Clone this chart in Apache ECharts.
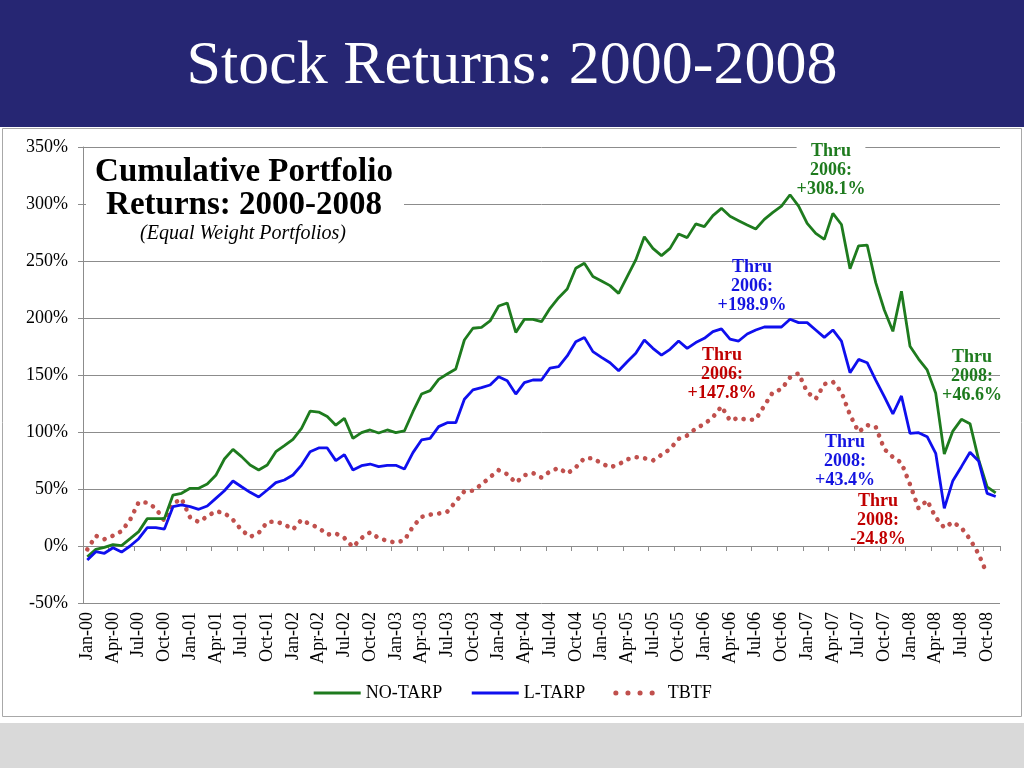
<!DOCTYPE html>
<html>
<head>
<meta charset="utf-8">
<script src="https://cdn.jsdelivr.net/npm/echarts@6/dist/echarts.min.js"></script>
<style>
html,body{margin:0;padding:0;background:#fff;}
#chart{width:1024px;height:768px;}
</style>
</head>
<body>
<div id="chart"></div>
<script>
// ---- data ----
const MONTH_NAMES = ['Jan','Feb','Mar','Apr','May','Jun','Jul','Aug','Sep','Oct','Nov','Dec'];
const YEARS = ['00','01','02','03','04','05','06','07','08'];
const N_MONTHS = 107; // Jan-00 .. Nov-08
const categories = [];
for (let k = 0; k < N_MONTHS; k++) {
  categories.push(MONTH_NAMES[k % 12] + '-' + YEARS[Math.floor(k / 12)]);
}

const noTarp = [
  -9.4,-3,-1.2,1.2,0.3,6.4,12.6,24,24,24,44.7,46.2,50.6,50.6,54.4,62,76.3,84.8,78.4,71,
  66.7,71,82.7,88,93.6,103.2,118.4,117.5,113.5,106,112,94.4,99.4,101.8,99.1,101.8,99.4,100.9,117.8,133.3,
  136.3,146.2,150.9,155.3,180.7,191,191.8,197.4,210.5,213.2,187.4,198.8,198.8,196.8,208.5,217.8,225.4,243.6,248,236.3,
  232.5,228.4,221.6,236.3,250.9,271.3,261.1,254.7,261.1,273.7,270.5,282.5,280.1,289.8,296.2,289.2,285.4,281.6,278.1,286.5,
  292.7,298.2,308.1,298.2,283,274.3,269,291.8,282,243.3,263.3,264,231,207,188.3,223.4,175.2,164,154.4,133.9,
  80.7,100.8,111.1,107.3,76,51.8,46.6
];
const lTarp = [
  -12.3,-5,-6.4,-1.5,-5.3,0,6.4,16.1,16.1,14.9,34.5,36,34.5,32.2,35.1,41.8,48.5,57,52,47.1,
  43,49.1,55.6,57.9,62.3,71,82.7,86,86,74.9,80.2,66.7,70.5,71.9,69.6,70.8,70.8,67.5,81.9,93,
  94.4,104.7,108.2,108.2,128.7,137,138.9,141.2,148.5,145,133.3,143.3,145.6,145.6,156.1,157.3,166.7,179.2,183,170.5,
  165.5,160.8,153.8,161.7,169,180.7,173.4,167.5,172.5,179.8,173.4,178.4,182.2,188,190.4,181.5,179.8,186,189.5,192.1,
  192.1,192.1,198.9,195.9,195.9,189.5,183,189.5,179.8,152,163.7,160.8,145.6,131,115.8,131.6,98.8,99.4,95.9,81.3,
  33,57.3,69.6,82.2,74.6,46.2,43.4
];
const tbtf = [
  -3,9,6,9,13,23,38.5,38,33,22,37,41.5,25,21,26,30.5,29,23,14,8,
  11.5,21,21.5,19,14.5,23,19,16,10,11,7,-1,7,12,7,4.5,3,5,17,25.5,
  27.5,28.5,30,39,48,48.5,54,60.5,66.5,63,55.5,62,64,60,65.5,68.5,63.5,69,77,77,
  72.5,69,71.5,76,78,77,75,80,85,94,97,103,107,113,122.5,110,112.5,110.5,111,123,
  135,137.5,147.8,151.5,135,129,142,144,135,115,100,106,104.5,85,78,73,54,33,40,25,
  16,21,16,6,-7,-24.8,null
];
const seriesNames = ['NO-TARP','L-TARP','TBTF'];
const Y_MIN = -50, Y_MAX = 350, Y_STEP = 50;

// ---- style ----
const GREEN = '#1e7b1e', BLUE = '#0f0fee', RED = '#c0504d';
const GRID_GRAY = '#8c8c8c';
const SERIF = '"Liberation Serif", "Times New Roman", serif';
const DOT_STYLE = {color: RED, width: 4.6, type: [0.1, 8.4], cap: 'round'};

const chart = echarts.init(document.getElementById('chart'), null, {renderer: 'canvas'});

function note(x, yTop, lines, color, bg) {
  return {
    type: 'text', z: 10,
    x: x, y: yTop,
    style: {
      text: lines.join('\n'),
      font: 'bold 18px ' + SERIF,
      fill: color,
      align: 'center',
      verticalAlign: 'top',
      lineHeight: 19,
      backgroundColor: bg || null
    }
  };
}

const option = {
  animation: false,
  backgroundColor: '#ffffff',
  grid: {left: 83, right: 24, top: 147, bottom: 165, containLabel: false},
  xAxis: {
    type: 'category',
    data: categories,
    boundaryGap: true,
    axisLine: {onZero: true, lineStyle: {color: GRID_GRAY, width: 1}},
    axisTick: {show: true, interval: 2, length: 5, lineStyle: {color: GRID_GRAY}},
    axisLabel: {
      interval: 2, rotate: 90, margin: 9,
      fontFamily: SERIF, fontSize: 18, color: '#000'
    },
    splitLine: {show: false}
  },
  yAxis: {
    type: 'value', min: Y_MIN, max: Y_MAX, interval: Y_STEP,
    axisLine: {show: true, onZero: false, lineStyle: {color: GRID_GRAY, width: 1}},
    axisTick: {show: true, length: 5, lineStyle: {color: GRID_GRAY}},
    axisLabel: {formatter: v => v + '%', fontFamily: SERIF, fontSize: 18, color: '#000', margin: 15},
    splitLine: {show: true, lineStyle: {color: GRID_GRAY, width: 1}}
  },
  legend: {
    top: 679, left: 'center',
    itemWidth: 47, itemHeight: 14, itemGap: 28,
    itemStyle: {opacity: 0},
    textStyle: {fontFamily: SERIF, fontSize: 18, color: '#000'},
    data: [
      {name: seriesNames[0], lineStyle: {color: GREEN, width: 3}},
      {name: seriesNames[1], lineStyle: {color: BLUE, width: 3}},
      {name: seriesNames[2], lineStyle: {color: RED, width: 5, type: [0.1, 12], cap: 'round'}}
    ]
  },
  series: [
    {name: seriesNames[0], type: 'line', data: noTarp, symbol: 'none', z: 3,
     lineStyle: {color: GREEN, width: 2.8}, itemStyle: {color: GREEN}},
    {name: seriesNames[1], type: 'line', data: lTarp, symbol: 'none', z: 4,
     lineStyle: {color: BLUE, width: 2.8}, itemStyle: {color: BLUE}},
    {name: seriesNames[2], type: 'line', data: tbtf, symbol: 'none', z: 2,
     lineStyle: DOT_STYLE, itemStyle: {color: RED}}
  ],
  graphic: [
    {type: 'rect', z: -10, shape: {x: 0, y: 0, width: 1024, height: 127}, style: {fill: '#262673'}},
    {type: 'rect', z: -10, shape: {x: 0, y: 723, width: 1024, height: 45}, style: {fill: '#d9d9d9'}},
    {type: 'rect', z: -9, shape: {x: 2.5, y: 128.5, width: 1019, height: 588}, style: {fill: 'none', stroke: '#a8a8a8', lineWidth: 1}},
    {type: 'text', z: 10, x: 512, y: 67,
     style: {text: 'Stock Returns: 2000-2008', font: '62px ' + SERIF, fill: '#ffffff', align: 'center', verticalAlign: 'middle'}},
    {type: 'rect', z: 9, shape: {x: 86, y: 152, width: 318, height: 94}, style: {fill: '#ffffff'}},
    {type: 'text', z: 10, x: 244, y: 172,
     style: {text: 'Cumulative Portfolio', font: 'bold 33px ' + SERIF, fill: '#000', align: 'center', verticalAlign: 'middle'}},
    {type: 'text', z: 10, x: 244, y: 205,
     style: {text: 'Returns: 2000-2008', font: 'bold 33px ' + SERIF, fill: '#000', align: 'center', verticalAlign: 'middle'}},
    {type: 'text', z: 10, x: 243, y: 234,
     style: {text: '(Equal Weight Portfolios)', font: 'italic 20px ' + SERIF, fill: '#000', align: 'center', verticalAlign: 'middle'}},
    note(831, 142, ['Thru', '2006:', '+308.1%'], GREEN, '#ffffff'),
    note(752, 258, ['Thru', '2006:', '+198.9%'], '#1414e0'),
    note(722, 346, ['Thru', '2006:', '+147.8%'], '#c00000'),
    note(972, 348, ['Thru', '2008:', '+46.6%'], GREEN),
    note(845, 433, ['Thru', '2008:', '+43.4%'], '#1414e0'),
    note(878, 492, ['Thru', '2008:', '-24.8%'], '#c00000')
  ]
};
chart.setOption(option);
</script>
</body>
</html>
